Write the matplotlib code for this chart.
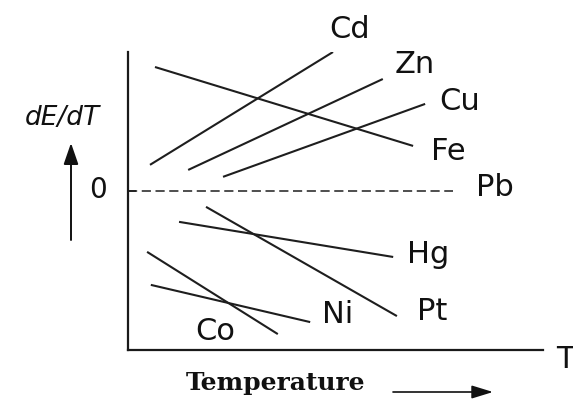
import matplotlib
matplotlib.use("Agg")
import matplotlib.pyplot as plt

# Schematic data: (T_start, T_end), (dEdT_start, dEdT_end)
metals = ["Cd", "Zn", "Cu", "Fe", "Hg", "Pt", "Co", "Ni"]
t_start = [0.53, 1.45, 2.29, 0.65, 1.23, 1.88, 0.46, 0.55]
t_end = [4.94, 6.14, 7.16, 6.87, 6.39, 6.48, 3.61, 4.39]
y_start = [0.87, 0.70, 0.47, 4.13, -1.03, -0.53, -2.03, -3.13]
y_end = [4.63, 3.73, 2.90, 1.50, -2.20, -4.17, -4.77, -4.37]

# Pb: zero line (dashed)
pb_t = [0.0, 7.83]
pb_y = [0.0, 0.0]

# label positions
label_names = ["Cd", "Zn", "Cu", "Fe", "Pb", "Hg", "Pt", "Ni", "Co"]
label_t = [5.35, 6.92, 8.0, 7.73, 8.84, 7.23, 7.33, 5.06, 2.10]
label_y = [5.37, 4.2, 2.97, 1.3, 0.13, -2.13, -4.03, -4.13, -4.7]

W, H = 573, 403
fig = plt.figure(figsize=(W / 100, H / 100), dpi=100)
fig.patch.set_facecolor("white")

ax = fig.add_axes([128 / W, (H - 350) / H, 415 / W, 298 / H])
ax.set_xlim(0, 10)
ax.set_ylim(-5.3, 4.63)
for s in ["top", "right"]:
    ax.spines[s].set_visible(False)
for s in ["left", "bottom"]:
    ax.spines[s].set_linewidth(1.6)
    ax.spines[s].set_color("#1a1a1a")
ax.set_xticks([])
ax.set_yticks([0])
ax.set_yticklabels([])
ax.tick_params(axis="y", direction="in", length=6, width=1.2, color="#1a1a1a")
ax.patch.set_alpha(0)

lc = "#1e1e1e"
for m, t0, t1, y0, y1 in zip(metals, t_start, t_end, y_start, y_end):
    ax.plot([t0, t1], [y0, y1], color=lc, lw=1.5, solid_capstyle="butt")

ax.plot(pb_t, pb_y, color=lc, lw=1.1, dashes=[6, 3])

for name, tx, ty in zip(label_names, label_t, label_y):
    ax.text(tx, ty, name, fontsize=22, family="DejaVu Sans", color="#111111",
            ha="center", va="center", clip_on=False)

# y label and arrow
fig.text(62 / W, 1 - 118 / H, "dE/dT", fontsize=19, family="DejaVu Sans",
         style="italic", ha="center", va="center", color="#111111")
fig.text(98 / W, 1 - 190 / H, "0", fontsize=20, family="DejaVu Sans",
         ha="center", va="center", color="#111111")
ax.annotate("", xy=(71 / W, 1 - 143 / H), xytext=(71 / W, 1 - 240 / H),
            xycoords="figure fraction", textcoords="figure fraction",
            arrowprops=dict(arrowstyle="-|>,head_length=1.3,head_width=0.45",
                            color="#111111", lw=1.4, shrinkA=0, shrinkB=0))

# x label and arrow
fig.text(276 / W, 1 - 383 / H, "Temperature", fontsize=18, family="DejaVu Serif",
         weight="bold", ha="center", va="center", color="#111111")
ax.annotate("", xy=(493 / W, 1 - 392 / H), xytext=(393 / W, 1 - 392 / H),
            xycoords="figure fraction", textcoords="figure fraction",
            arrowprops=dict(arrowstyle="-|>,head_length=1.3,head_width=0.4",
                            color="#111111", lw=1.2, shrinkA=0, shrinkB=0))
fig.text(556 / W, 1 - 360 / H, "T", fontsize=22, family="DejaVu Sans",
         ha="left", va="center", color="#111111")

fig.savefig("out.png", dpi=100)
